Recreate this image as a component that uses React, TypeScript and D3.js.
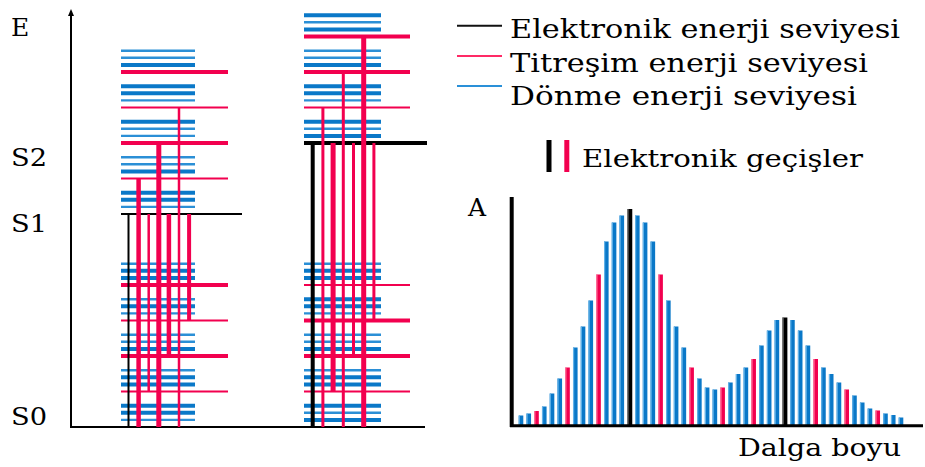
import * as d3 from "d3";

const W = 925;
const H = 467;

const BLUE = "#0a78c8";
const BLUE_LT = "#62b2e8";
const RED = "#f2004f";
const RED_LT = "#ff7aa0";
const FONT = "'DejaVu Serif', 'Liberation Serif', serif";

// energy diagram, in units of one vibrational quantum
const stateNames = ["S0", "S1", "S2"];
const stateEnergy = [0, 6, 8];
const rotSteps = [0.2, 0.4, 0.6];

const lowerVib = [0, 1, 2, 3, 4];
const upperVibS1 = [0, 1, 2, 3, 4];
const upperVibS2 = [0, 1, 2, 3];

// 1 = thick line (index = v)
const redWideS0a = [0, 0, 1, 0, 1];
const redWideS1 = [0, 0, 1, 0, 1];
const redWideS0b = [0, 0, 1, 1, 0];
const redWideS2 = [0, 0, 1, 1];

// rotational lines above each vibrational level, bottom to top
const rotWideS0a = [[0, 1, 1], [1, 1, 0], [1, 0, 0], [0, 1, 0], [1, 1, 0]];
const rotWideS1 = [[0, 1, 1], [1, 0, 0], [0, 0, 1], [0, 1, 1], [1, 0, 0]];
const rotWideS0b = [[1, 0, 1], [1, 1, 0], [1, 0, 0], [0, 1, 1], [1, 1, 0]];
const rotWideS2 = [[1, 0, 1], [0, 1, 1], [1, 0, 0], [1, 0, 1]];

// [lower v, upper v]
const transitions = [[0, 0], [0, 1], [1, 0], [0, 2], [2, 0], [0, 3], [3, 0]];
const transWidthS1 = [2, 4.5, 2.5, 5, 4.5, 2.5, 4];
const transWidthS2 = [4, 3, 5, 3, 3, 5, 3];

// absorption spectrum
const specValues = [10, 12, 14.5, 19, 32, 47, 58, 78, 99, 125, 151, 184, 203, 210, 216.5, 210, 203, 184, 151, 125,
  99, 78, 58, 47, 38, 36, 38, 43, 51.5, 58, 66.5, 80, 95, 105.5, 108, 105.5, 95, 80, 66.5, 58,
  51.5, 43, 36, 30, 23, 17, 15, 12, 10.5, 8];
const specKinds = "bbrb" + "bbrb" + "bbrb" + "bbkb" + "bbrb" + "bbrb" + "bbrb" + "bbrb" + "bbkb" + "bbrb" + "bbrb" + "bbrb" + "bb";

const legendItems = ["Elektronik enerji seviyesi", "Titreşim enerji seviyesi", "Dönme enerji seviyesi"];
const legendColors = ["#111", "#ff2a66", "#2a90d8"];
const legendWidths = [390, 358, 347];

const eScale = d3.scaleLinear().domain([0, 11.69]).range([427, 12]);
const specX = d3.scaleLinear().domain([0, specValues.length - 1]).range([521, 901]);
const specY = d3.scaleLinear().domain([0, 228]).range([425.5, 197.5]);

function Column({ x0, blueEnd, redEnd, blackEnd, upper, upperVib, redLow, redUp, rotLow, rotUp, tx0, tStep, tw, blackW }) {
  const level = (base, vib, redW, rotW, key) => (
    <g key={key}>
      {vib.map((v) => (
        <g key={v}>
          {rotSteps.map((r, j) => (
            <line key={j} x1={x0} x2={blueEnd} y1={eScale(base + v + r)} y2={eScale(base + v + r)}
              stroke={rotW[v][j] ? BLUE : "#2b8fd6"} strokeWidth={rotW[v][j] ? 4 : 2.4} />
          ))}
          {v > 0 && (
            <line x1={x0} x2={redEnd} y1={eScale(base + v)} y2={eScale(base + v)}
              stroke={RED} strokeWidth={redW[v] ? 4 : 2.2} />
          )}
        </g>
      ))}
    </g>
  );
  const tx = d3.scaleLinear().domain([0, 1]).range([tx0, tx0 + tStep]);
  return (
    <g>
      {level(stateEnergy[0], lowerVib, redLow, rotLow, "lo")}
      {level(upper, upperVib, redUp, rotUp, "up")}
      <line x1={x0} x2={blackEnd} y1={eScale(upper)} y2={eScale(upper)} stroke="#000" strokeWidth={blackW} />
      {transitions.map(([lo, up], i) => (
        <line key={i} x1={tx(i)} x2={tx(i)} y1={eScale(lo)} y2={eScale(upper + up)}
          stroke={i === 0 ? "#000" : RED} strokeWidth={tw[i]} />
      ))}
    </g>
  );
}

export default function App() {
  const barW = 4.6;
  return (
    <svg width={W} height={H} style={{ position: "absolute", left: 0, top: 0, background: "#fff" }}
      fontFamily={FONT}>
      {/* energy axis */}
      <line x1={71} x2={71} y1={eScale(11.69)} y2={eScale(0)} stroke="#000" strokeWidth={2} />
      <path d="M68,16 L71,9 L74,16 Z" fill="#000" />
      <line x1={70} x2={425} y1={eScale(0)} y2={eScale(0)} stroke="#000" strokeWidth={2} />
      <text x={11} y={36} fontSize={25}>E</text>
      {stateNames.map((s, i) => (
        <text key={s} x={11} y={eScale(stateEnergy[i]) + (i === 0 ? -2 : i === 1 ? 18 : 23)} fontSize={25}
          textLength={36} lengthAdjust="spacingAndGlyphs">{s}</text>
      ))}

      <Column x0={121} blueEnd={195} redEnd={228} blackEnd={242} upper={stateEnergy[1]} upperVib={upperVibS1}
        redLow={redWideS0a} redUp={redWideS1} rotLow={rotWideS0a} rotUp={rotWideS1}
        tx0={128.5} tStep={10.1} tw={transWidthS1} blackW={2} />
      <Column x0={304} blueEnd={381} redEnd={410} blackEnd={427} upper={stateEnergy[2]} upperVib={upperVibS2}
        redLow={redWideS0b} redUp={redWideS2} rotLow={rotWideS0b} rotUp={rotWideS2}
        tx0={312.7} tStep={10.2} tw={transWidthS2} blackW={4} />

      {/* legend */}
      {legendItems.map((t, i) => (
        <g key={t}>
          <line x1={457} x2={502} y1={25.7 + i * 30.2} y2={25.7 + i * 30.2} stroke={legendColors[i]} strokeWidth={2} />
          <text x={510} y={38 + i * 33.6} fontSize={26} textLength={legendWidths[i]} lengthAdjust="spacingAndGlyphs">{t}</text>
        </g>
      ))}
      <rect x={546.5} y={140} width={5} height={32} fill="#000" />
      <rect x={564.3} y={140} width={5} height={32} fill={RED} />
      <text x={582} y={167} fontSize={25} textLength={281} lengthAdjust="spacingAndGlyphs">Elektronik geçişler</text>

      {/* spectrum */}
      {specValues.map((v, i) => {
        const k = specKinds[i];
        const fill = k === "k" ? "#000" : k === "r" ? RED : BLUE;
        const lt = k === "k" ? "#888" : k === "r" ? RED_LT : BLUE_LT;
        const x = specX(i) - barW / 2;
        return (
          <g key={i}>
            <rect x={x} y={specY(v)} width={k === "k" ? 5 : barW} height={specY(0) - specY(v)} fill={fill} />
            <rect x={x} y={specY(v)} width={1.2} height={specY(0) - specY(v)} fill={lt} />
          </g>
        );
      })}
      <line x1={511.7} x2={511.7} y1={197} y2={427} stroke="#000" strokeWidth={4} />
      <line x1={510} x2={923} y1={425.7} y2={425.7} stroke="#000" strokeWidth={3} />
      <text x={468} y={216} fontSize={25}>A</text>
      <text x={738} y={456} fontSize={24} textLength={163} lengthAdjust="spacingAndGlyphs">Dalga boyu</text>
    </svg>
  );
}
